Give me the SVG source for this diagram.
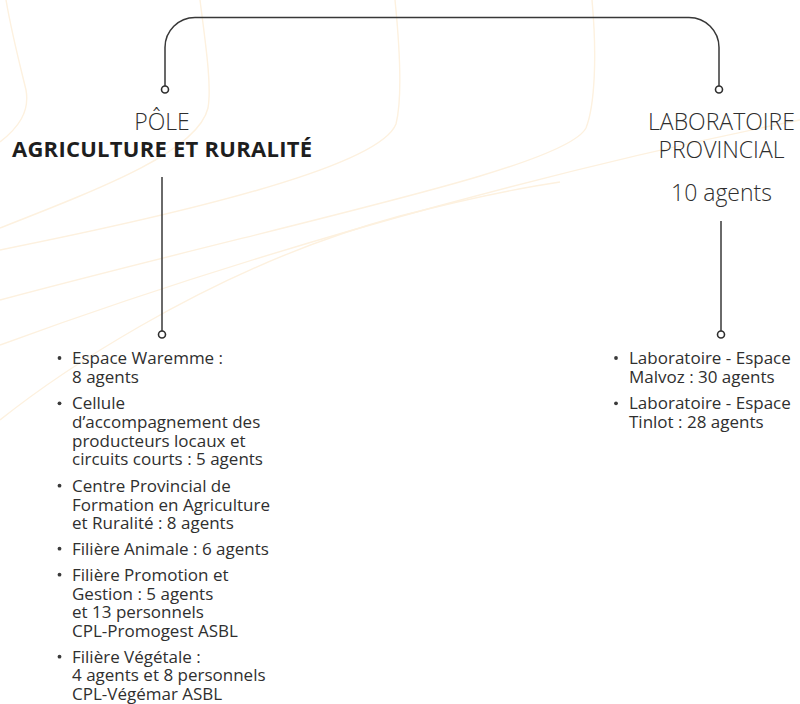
<svg xmlns="http://www.w3.org/2000/svg" width="800" height="704" viewBox="0 0 800 704">
<style>
.bg{fill:none;stroke:#fdf1df;stroke-width:1.4}
.conn{fill:none;stroke:#383838;stroke-width:1.5}
.dot{fill:#fff;stroke:#2e2e2e;stroke-width:1.6}
.h{font-family:"Open Sans","Noto Sans",sans-serif;font-weight:300;font-size:23px;fill:#2e2e2e;text-anchor:middle}
.hb{font-family:"Open Sans","Noto Sans",sans-serif;font-weight:700;font-size:22px;fill:#1e1e1e;text-anchor:middle}
.t{font-family:"Open Sans","Noto Sans",sans-serif;font-size:17px;fill:#2f2f2f}
.b{fill:#3a3a3a}
</style>
<rect width="800" height="704" fill="#fff"/>
<g id="background">
<path class="bg" d="M6,0 C12,35 20,65 26,90 C30,112 18,128 0,142"/>
<path class="bg" d="M200,0 C205,40 212,85 208,108 C198,150 110,185 0,228"/>
<path class="bg" d="M395,0 C400,50 402,100 396,124 C380,165 200,210 0,250"/>
<path class="bg" d="M592,0 C597,55 595,105 586,128 C565,168 300,220 0,300"/>
<path class="bg" d="M800,120 C600,160 300,235 0,345"/>
<path class="bg" d="M0,420 C40,388 200,270 400,216 C470,198 520,188 560,182"/>
</g>
<g id="connectors">
<path class="conn" d="M165,86 V47.5 A30,30 0 0 1 195,17.5 H689 A30,30 0 0 1 719,47.5 V86"/>
<line class="conn" x1="162" y1="177" x2="162" y2="331"/>
<line class="conn" x1="721" y1="221" x2="721" y2="331"/>
<circle class="dot" cx="165" cy="89.5" r="3.5"/>
<circle class="dot" cx="719" cy="89.5" r="3.5"/>
<circle class="dot" cx="162" cy="334.5" r="3.5"/>
<circle class="dot" cx="721" cy="334.5" r="3.5"/>
</g>
<g id="node-pole">
<text class="h" x="162" y="130">PÔLE</text>
<text class="hb" x="162" y="157" textLength="300" lengthAdjust="spacing">AGRICULTURE ET RURALITÉ</text>
</g>
<g id="node-labo">
<text class="h" x="721.5" y="130">LABORATOIRE</text>
<text class="h" x="721.5" y="158">PROVINCIAL</text>
<text class="h" x="721.5" y="201">10 agents</text>
</g>
<g id="node-pole-list">
<circle class="b" cx="59.5" cy="358" r="1.9"/>
<circle class="b" cx="59.5" cy="403.3" r="1.9"/>
<circle class="b" cx="59.5" cy="485.7" r="1.9"/>
<circle class="b" cx="59.5" cy="548.7" r="1.9"/>
<circle class="b" cx="59.5" cy="574.7" r="1.9"/>
<circle class="b" cx="59.5" cy="656.7" r="1.9"/>
<text class="t">
<tspan x="72" y="364">Espace Waremme :</tspan>
<tspan x="72" y="382.5">8 agents</tspan>
<tspan x="72" y="409.3">Cellule</tspan>
<tspan x="72" y="427.8">d’accompagnement des</tspan>
<tspan x="72" y="446.5">producteurs locaux et</tspan>
<tspan x="72" y="465">circuits courts : 5 agents</tspan>
<tspan x="72" y="491.7">Centre Provincial de</tspan>
<tspan x="72" y="510.5">Formation en Agriculture</tspan>
<tspan x="72" y="529">et Ruralité : 8 agents</tspan>
<tspan x="72" y="554.7">Filière Animale : 6 agents</tspan>
<tspan x="72" y="580.7">Filière Promotion et</tspan>
<tspan x="72" y="599.5">Gestion : 5 agents</tspan>
<tspan x="72" y="618.2">et 13 personnels</tspan>
<tspan x="72" y="636.8">CPL-Promogest ASBL</tspan>
<tspan x="72" y="662.7">Filière Végétale :</tspan>
<tspan x="72" y="681.4">4 agents et 8 personnels</tspan>
<tspan x="72" y="700">CPL-Végémar ASBL</tspan>
</text>
</g>
<g id="node-labo-list">
<circle class="b" cx="616" cy="358" r="1.9"/>
<circle class="b" cx="616" cy="403.3" r="1.9"/>
<text class="t">
<tspan x="629" y="364">Laboratoire - Espace</tspan>
<tspan x="629" y="382.5">Malvoz : 30 agents</tspan>
<tspan x="629" y="409.3">Laboratoire - Espace</tspan>
<tspan x="629" y="427.8">Tinlot : 28 agents</tspan>
</text>
</g>
</svg>
